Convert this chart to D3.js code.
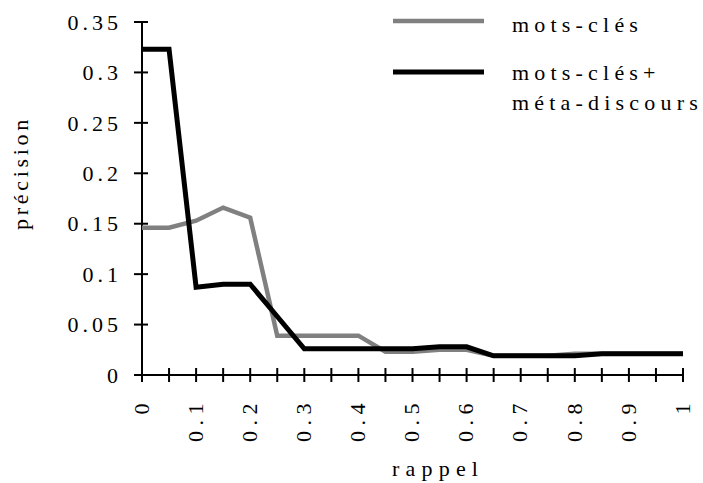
<!DOCTYPE html>
<html><head><meta charset="utf-8">
<script src="https://cdn.jsdelivr.net/npm/d3@7"></script>
<style>
html,body{margin:0;padding:0;background:#fff;}
svg text{font-family:"Liberation Serif","Times New Roman",serif;fill:#000;}
</style></head>
<body><svg id="c" width="703" height="483"></svg>
<script>
const rappel = [0,0.05,0.1,0.15,0.2,0.25,0.3,0.35,0.4,0.45,0.5,0.55,0.6,0.65,0.7,0.75,0.8,0.85,0.9,0.95,1];
const motsCles = [0.146,0.146,0.153,0.166,0.156,0.039,0.039,0.039,0.039,0.023,0.023,0.025,0.025,0.019,0.019,0.019,0.021,0.021,0.021,0.021,0.021];
const motsClesMeta = [0.323,0.323,0.087,0.090,0.090,0.058,0.026,0.026,0.026,0.026,0.026,0.028,0.028,0.019,0.019,0.019,0.019,0.021,0.021,0.021,0.021];
const yTicks = [0,0.05,0.1,0.15,0.2,0.25,0.3,0.35];
const xTicks = [0,0.1,0.2,0.3,0.4,0.5,0.6,0.7,0.8,0.9,1];
const xMinorTicks = rappel;
const seriesNames = [["mots-clés"], ["mots-clés+", "méta-discours"]];
const seriesColors = ["#808080", "#000000"];
const seriesWidths = [4.5, 5];

const svg = d3.select("#c");
const x = d3.scaleLinear().domain([0,1]).range([142,683]);
const y = d3.scaleLinear().domain([0,0.35]).range([375,22]);
const fmt = d => d===0 ? "0" : String(d);

// y axis
const ya = svg.append("g");
ya.append("line").attr("x1",x(0)).attr("x2",x(0)).attr("y1",y(0)).attr("y2",y(0.35)).attr("stroke","#000").attr("stroke-width",2);
ya.selectAll("line.t").data(yTicks).join("line").attr("class","t")
  .attr("x1",x(0)-8).attr("x2",x(0)+6).attr("y1",d=>y(d)).attr("y2",d=>y(d)).attr("stroke","#000").attr("stroke-width",2);
ya.selectAll("text").data(yTicks).join("text")
  .attr("x",122).attr("y",d=>y(d)).attr("dy","0.35em").attr("text-anchor","end")
  .style("font-size","22px").style("letter-spacing","4px").text(fmt);

// x axis
const xa = svg.append("g");
xa.append("line").attr("x1",x(0)).attr("x2",x(1)).attr("y1",y(0)).attr("y2",y(0)).attr("stroke","#000").attr("stroke-width",2);
xa.selectAll("line.t").data(xMinorTicks).join("line").attr("class","t")
  .attr("x1",d=>x(d)).attr("x2",d=>x(d)).attr("y1",y(0)-7).attr("y2",y(0)+7).attr("stroke","#000").attr("stroke-width",2);
xa.selectAll("text").data(xTicks).join("text")
  .attr("transform",d=>`translate(${x(d)-1},${398}) rotate(-90)`)
  .attr("dy","0.35em").attr("text-anchor","end")
  .style("font-size","22px").style("letter-spacing","5.5px").text(fmt);

// titles
svg.append("text").attr("x",392).attr("y",476)
  .style("font-size","22px").style("letter-spacing","6.2px").text("rappel");
svg.append("text").attr("transform","translate(28,230) rotate(-90)")
  .style("font-size","22px").style("letter-spacing","3.7px").text("précision");

// lines
const line = d3.line().x((d,i)=>x(rappel[i])).y(d=>y(d));
[motsCles, motsClesMeta].forEach((s,k)=>{
  svg.append("path").attr("d",line(s)).attr("fill","none").attr("stroke",seriesColors[k])
    .attr("stroke-width",seriesWidths[k]).attr("stroke-linejoin","miter");
});

// legend
const leg = svg.append("g");
const legY = [21,72];
const legText = [[31.5],[80,110]];
seriesNames.forEach((n,k)=>{
  leg.append("line").attr("x1",393).attr("x2",484).attr("y1",legY[k]).attr("y2",legY[k])
    .attr("stroke",seriesColors[k]).attr("stroke-width",seriesWidths[k]);
  n.forEach((t,j)=>{
    leg.append("text").attr("x",512).attr("y",legText[k][j])
      .style("font-size","22px").style("letter-spacing","5.2px").text(t);
  });
});
</script></body></html>
